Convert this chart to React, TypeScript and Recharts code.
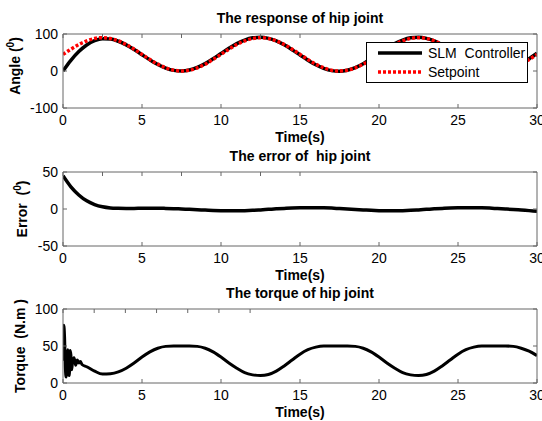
import React from 'react';
import { LineChart, Line, XAxis, YAxis, Legend } from 'recharts';

// time base (s) for response and error plots
const time = [
  0, 0.5, 1, 1.5, 2, 2.5, 3, 3.5, 4, 4.5, 5, 5.5, 6, 6.5, 7, 7.5, 8, 8.5, 9, 9.5,
  10, 10.5, 11, 11.5, 12, 12.5, 13, 13.5, 14, 14.5, 15, 15.5, 16, 16.5, 17, 17.5, 18, 18.5, 19, 19.5,
  20, 20.5, 21, 21.5, 22, 22.5, 23, 23.5, 24, 24.5, 25, 25.5, 26, 26.5, 27, 27.5, 28, 28.5, 29, 29.5, 30,
];
const setpoint = [
  45, 58.9, 71.5, 81.4, 87.8, 90, 87.8, 81.4, 71.5, 58.9, 45, 31.1, 18.5, 8.6, 2.2, 0, 2.2, 8.6, 18.5, 31.1,
  45, 58.9, 71.5, 81.4, 87.8, 90, 87.8, 81.4, 71.5, 58.9, 45, 31.1, 18.5, 8.6, 2.2, 0, 2.2, 8.6, 18.5, 31.1,
  45, 58.9, 71.5, 81.4, 87.8, 90, 87.8, 81.4, 71.5, 58.9, 45, 31.1, 18.5, 8.6, 2.2, 0, 2.2, 8.6, 18.5, 31.1, 45,
];
const angle = [
  0, 28.9, 52.5, 70.4, 81.8, 87, 86.3, 80.4, 70.7, 58.1, 44, 30.1, 17.5, 7.8, 1.7, 0, 2.7, 9.6, 20, 33.1,
  47.3, 61.4, 74, 83.6, 89.6, 91.2, 88.3, 81.2, 70.7, 57.6, 43.4, 29.3, 16.7, 7, 1, -0.6, 2.2, 9.2, 19.7, 32.9,
  47.2, 61.4, 74, 83.6, 89.6, 91.2, 88.3, 81.2, 70.7, 57.6, 43.4, 29.3, 16.7, 7, 1, -0.6, 2.2, 9.2, 19.9, 33.3, 48,
];
const error = [
  45, 30, 19, 11, 6, 3, 1.5, 1, 0.8, 0.8, 1, 1, 1, 0.8, 0.5, 0, -0.5, -1, -1.5, -2,
  -2.3, -2.5, -2.5, -2.2, -1.8, -1.2, -0.5, 0.2, 0.8, 1.3, 1.6, 1.8, 1.8, 1.6, 1.2, 0.6, 0, -0.6, -1.2, -1.8,
  -2.2, -2.5, -2.5, -2.2, -1.8, -1.2, -0.5, 0.2, 0.8, 1.3, 1.6, 1.8, 1.8, 1.6, 1.2, 0.6, 0, -0.6, -1.4, -2.2, -3,
];

// torque has its own, denser time base at the start
const torqueTime = [
  0, 0.05, 0.1, 0.15, 0.2, 0.25, 0.3, 0.35, 0.4, 0.45, 0.5, 0.55, 0.6, 0.7, 0.8, 0.9, 1, 1.1, 1.2, 1.5, 2,
  2.5, 3, 3.5, 4, 4.5, 5, 5.5, 6, 6.5, 7, 7.5, 8, 8.5, 9, 9.5, 10, 10.5, 11, 11.5, 12,
  12.5, 13, 13.5, 14, 14.5, 15, 15.5, 16, 16.5, 17, 17.5, 18, 18.5, 19, 19.5, 20, 20.5, 21, 21.5, 22,
  22.5, 23, 23.5, 24, 24.5, 25, 25.5, 26, 26.5, 27, 27.5, 28, 28.5, 29, 29.5, 30,
];
const torque = [
  30, 78, 62, 20, 8, 35, 45, 12, 10, 44, 38, 18, 28, 34, 24, 31, 27, 29, 25, 22, 16,
  12, 12.5, 15, 20, 27, 35, 42, 47, 49.5, 50, 50, 50, 49.5, 47, 42, 35, 27, 20, 14, 11,
  10, 11.5, 16, 23, 31, 39, 45, 48.5, 50, 50, 50, 50, 49.5, 47, 42, 35, 27, 20, 14, 11,
  10, 11.5, 16, 23, 31, 39, 45, 48.5, 50, 50, 50, 50, 49.5, 47, 43, 37,
];

const timeTicks = [0, 5, 10, 15, 20, 25, 30];
const angleTicks = [-100, 0, 100];
const errorTicks = [-50, 0, 50];
const torqueTicks = [0, 50, 100];

const responseData = time.map((t, i) => ({ t, angle: angle[i], setpoint: setpoint[i] }));
const errorData = time.map((t, i) => ({ t, error: error[i] }));
const torqueData = torqueTime.map((t, i) => ({ t, torque: torque[i] }));

const FONT = '"Liberation Sans", Arial, sans-serif';
const BOX = '#666';
const W = 542;
const H = 145;
// top/right axes take 1px each, so the plot box is x 63..537, y 34..108
const margin = { top: 33, right: 4, left: 0, bottom: 0 };
const tickStyle = { fontSize: 14, fill: '#000', fontFamily: FONT };
const boldText = { fontSize: 14, fontWeight: 'bold', fill: '#000', fontFamily: FONT };

const yLabel = (text: React.ReactNode, x: number, dy: number) => (props: any) => {
  const vb = props.viewBox;
  const cy = vb.y + vb.height / 2 + dy;
  return (
    <text
      x={x}
      y={cy}
      transform={`rotate(-90 ${x} ${cy})`}
      textAnchor="middle"
      dominantBaseline="central"
      fontFamily={FONT}
      fontSize={14}
      fontWeight="bold"
      fill="#000"
      style={{ whiteSpace: 'pre' }}
    >
      {text}
    </text>
  );
};

// MATLAB style box: ticks inside on all four sides
function axes(title: string, label: (p: any) => React.ReactNode, yTicks: number[], yDomain: number[]) {
  return [
    <XAxis
      key="xb"
      dataKey="t"
      type="number"
      domain={[0, 30]}
      ticks={timeTicks}
      interval={0}
      allowDataOverflow
      height={37}
      tickSize={-4}
      tickMargin={11}
      stroke={BOX}
      tick={tickStyle}
      label={{ value: 'Time(s)', position: 'insideBottom', offset: 3.5, ...boldText }}
    />,
    <XAxis
      key="xt"
      xAxisId="top"
      orientation="top"
      type="number"
      domain={[0, 30]}
      ticks={timeTicks}
      interval={0}
      allowDataOverflow
      height={1}
      tickSize={-4}
      tickFormatter={() => ''}
      stroke={BOX}
      label={{ value: title, position: 'top', offset: 10, ...boldText }}
    />,
    <YAxis
      key="yl"
      type="number"
      domain={yDomain}
      ticks={yTicks}
      interval={0}
      allowDataOverflow
      width={63}
      tickSize={-4}
      tickMargin={9}
      stroke={BOX}
      tick={tickStyle}
      label={label}
    />,
    <YAxis
      key="yr"
      yAxisId="right"
      orientation="right"
      type="number"
      domain={yDomain}
      ticks={yTicks}
      interval={0}
      allowDataOverflow
      width={1}
      tickSize={-4}
      tickFormatter={() => ''}
      stroke={BOX}
    />,
  ];
}

const renderLegend = (props: any) => (
  <div
    style={{
      width: 162,
      height: 41,
      boxSizing: 'border-box',
      border: '1px solid #000',
      background: '#fff',
      paddingTop: 1,
      fontFamily: FONT,
      fontSize: 14,
      color: '#000',
    }}
  >
    {(props.payload || []).map((item: any) => (
      <div key={item.value} style={{ display: 'flex', alignItems: 'center', height: 18.5 }}>
        <svg width={56} height={10}>
          <line
            x1={11}
            x2={55}
            y1={5}
            y2={5}
            stroke={item.color}
            strokeWidth={3.5}
            strokeDasharray={item.payload?.strokeDasharray}
          />
        </svg>
        <span style={{ whiteSpace: 'pre', marginLeft: 5 }}>{item.value}</span>
      </div>
    ))}
  </div>
);

const sup = (pre: string, post: string) => (
  <>
    {pre}
    <tspan dy={-5} fontSize={10}>0</tspan>
    <tspan dy={5}>{post}</tspan>
  </>
);

export default function App() {
  return (
    <div style={{ position: 'absolute', left: 0, top: 0, width: W, height: 421, background: '#fff' }}>
      <div style={{ position: 'absolute', left: 0, top: 0 }}>
        <LineChart width={W} height={H} data={responseData} margin={margin}>
          {axes('The response of hip joint', yLabel(sup('Angle (', ')'), 15, -5), angleTicks, [-100, 100])}
          <Line
            type="monotone"
            dataKey="angle"
            name="SLM  Controller"
            stroke="#000"
            strokeWidth={3.5}
            dot={false}
            isAnimationActive={false}
          />
          <Line
            type="monotone"
            dataKey="setpoint"
            name="Setpoint"
            stroke="#ff0000"
            strokeWidth={3.5}
            strokeDasharray="3 2"
            dot={false}
            isAnimationActive={false}
          />
          <Legend
            content={renderLegend}
            layout="horizontal"
            verticalAlign="middle"
            align="center"
            wrapperStyle={{ top: 42, left: 366, width: 162 }}
          />
        </LineChart>
      </div>
      <div style={{ position: 'absolute', left: 0, top: 138 }}>
        <LineChart width={W} height={H} data={errorData} margin={margin}>
          {axes('The error of \u00a0hip joint', yLabel(sup('Error  (', ')'), 22, 0), errorTicks, [-50, 50])}
          <Line
            type="monotone"
            dataKey="error"
            stroke="#000"
            strokeWidth={3.5}
            dot={false}
            isAnimationActive={false}
          />
        </LineChart>
      </div>
      <div style={{ position: 'absolute', left: 0, top: 275 }}>
        <LineChart width={W} height={H} data={torqueData} margin={margin}>
          {axes('The torque of hip joint', yLabel('Torque  (N.m )', 20, 0), torqueTicks, [0, 100])}
          <Line
            type="monotone"
            dataKey="torque"
            stroke="#000"
            strokeWidth={3}
            dot={false}
            isAnimationActive={false}
          />
        </LineChart>
      </div>
    </div>
  );
}
